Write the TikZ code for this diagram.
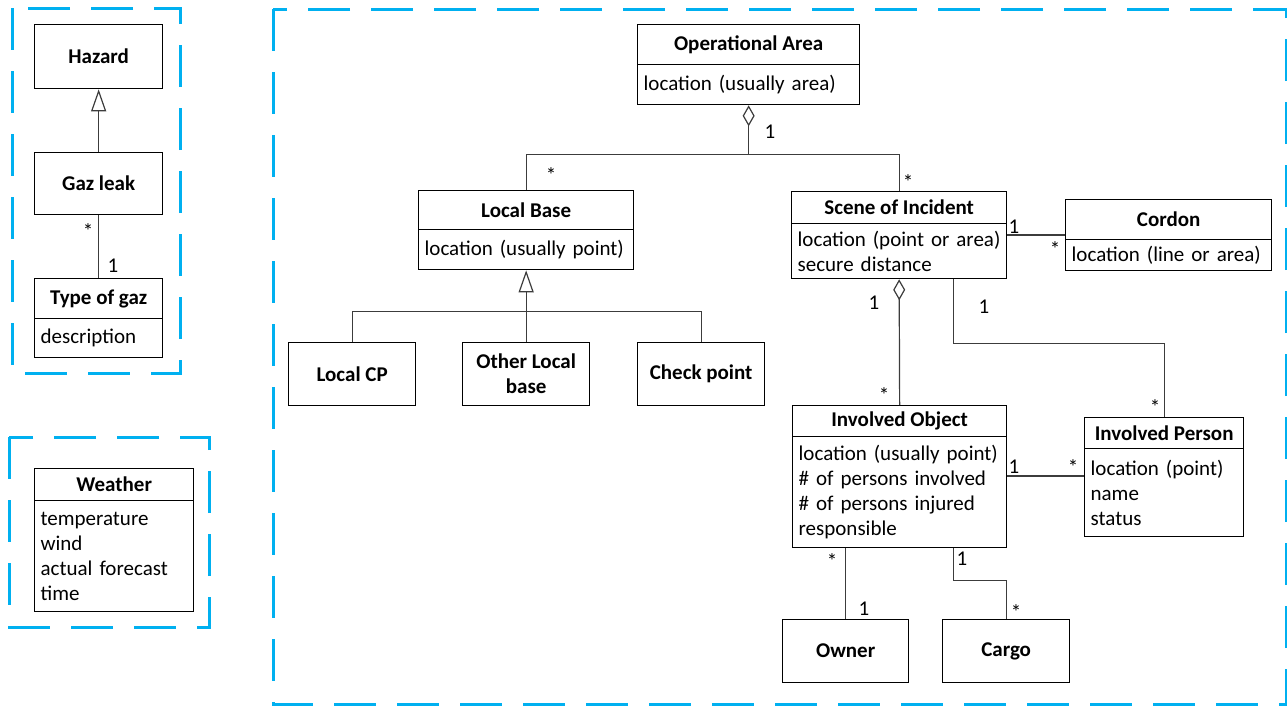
\documentclass[tikz,border=0pt]{standalone}
\usepackage{fontspec}
\setmainfont{Carlito}
\usetikzlibrary{arrows.meta,calc}
\definecolor{groupblue}{RGB}{0,176,240}
\definecolor{linkgray}{RGB}{60,60,60}
\begin{document}
\begin{tikzpicture}[x=1pt,y=-1pt,
  font=\fontsize{21}{25}\selectfont,
  title/.style={draw, line width=1.3pt, anchor=north west, align=center, inner sep=0pt,
    font=\fontsize{21}{25}\selectfont\bfseries},
  attrs/.style={draw, line width=1.3pt, anchor=north west, align=left, inner xsep=6pt, inner ysep=0pt},
  link/.style={draw=linkgray, line width=1.2pt},
  gen/.style={link, -{Triangle[open, length=22pt, width=15pt]}},
  agg/.style={link, {Diamond[open, length=21pt, width=12pt]}-},
  mult/.style={anchor=base, inner sep=0pt},
  group/.style={draw=groupblue, line width=3pt, dash pattern=on 42pt off 21pt}
]
\useasboundingbox (0,0) rectangle (1287,705);

% grouping frames
\draw[group] (12,8) rectangle (180,373);
\draw[group] (9,437) rectangle (209,627);
\draw[group] (273,9) rectangle (1286,704);

% hazard package
\node[title, minimum width=128pt, minimum height=64pt] (haz) at (34,24) {Hazard};
\node[title, minimum width=128pt, minimum height=62pt] (gaz) at (34,152) {Gaz leak};
\node[title, minimum width=128pt, minimum height=40pt] (togT) at (34,278) {Type of gaz};
\node[attrs, minimum width=128pt, minimum height=39pt, text width=116pt] (togA) at (34,318) {description};

% weather
\node[title, minimum width=159pt, minimum height=32pt] (wT) at (34,468) {Weather};
\node[attrs, minimum width=159pt, minimum height=111pt, text width=147pt] (wA) at (34,500)
  {temperature\\wind\\actual forecast\\time};

% operational classes
\node[title, minimum width=222pt, minimum height=40pt] (opT) at (637,24) {Operational Area};
\node[attrs, minimum width=222pt, minimum height=40pt, text width=210pt] (opA) at (637,64) {location (usually area)};

\node[title, minimum width=215pt, minimum height=39pt] (lbT) at (418,190) {Local Base};
\node[attrs, minimum width=215pt, minimum height=40pt, text width=203pt] (lbA) at (418,229) {location (usually point)};

\node[title, minimum width=215pt, minimum height=32pt] (scT) at (791,191) {Scene of Incident};
\node[attrs, minimum width=215pt, minimum height=55pt, text width=203pt] (scA) at (791,223)
  {\mbox{location (point or area)}\\secure distance};

\node[title, minimum width=206pt, minimum height=40pt] (cdT) at (1065,199) {Cordon};
\node[attrs, minimum width=206pt, minimum height=31pt, text width=194pt] (cdA) at (1065,239) {location (line or area)};

\node[title, minimum width=127pt, minimum height=63pt] (lcp) at (288,342) {Local CP};
\node[title, minimum width=127pt, minimum height=63pt] (olb) at (462,342) {Other Local\\base};
\node[title, minimum width=127pt, minimum height=63pt] (chk) at (637,342) {Check point};

\node[title, minimum width=214pt, minimum height=31pt] (ioT) at (792,405) {Involved Object};
\node[attrs, minimum width=214pt, minimum height=111pt, text width=202pt] (ioA) at (792,436)
  {\mbox{location (usually point)}\\\# of persons involved\\\# of persons injured\\responsible};

\node[title, minimum width=159pt, minimum height=31pt] (ipT) at (1084,417) {Involved Person};
\node[attrs, minimum width=159pt, minimum height=88pt, text width=147pt] (ipA) at (1084,448)
  {location (point)\\name\\status};

\node[title, minimum width=126pt, minimum height=63pt] (own) at (782,619) {Owner};
\node[title, minimum width=127pt, minimum height=63pt] (cg) at (942,619) {Cargo};

% connectors
\draw[gen] (gaz.north) -- (haz.south);
\draw[link] (gaz.south) -- (togT.north);

\coordinate (opJ) at ($(opA.south)+(0,49)$);
\draw[agg] (opA.south) -- (opJ);
\draw[link] (lbT.north) |- (opJ) -| (scT.north);

\coordinate (lbJ) at ($(lbA.south)+(0,41)$);
\draw[gen] (lbJ) -- (lbA.south);
\draw[link] (lcp.north) |- (lbJ) -| (chk.north);
\draw[link] (olb.north) -- (lbJ);

\draw[link] ([yshift=-12pt]scA.north east) -- ([yshift=-12pt]scA.north east -| cdT.west);
\draw[agg] (scA.south) -- (ioT.north);
\draw[link] ([xshift=-54pt]scA.south east) -- ++(0,64) -| (ipT.north);
\draw[link] ([yshift=-40pt]ioA.north east) -- ([yshift=-40pt]ioA.north east -| ipA.west);
\draw[link] (own.north) -- (own.north |- ioA.south);
\draw[link] ([xshift=-54pt]ioA.south east) -- ++(0,32) -| (cg.north);

% multiplicities
\node[mult] (m1) at (88,238) {*};
\node[mult] (m2) at (113,272) {1};
\node[mult] (m3) at (770,138) {1};
\node[mult] (m4) at (551,182) {*};
\node[mult] (m5) at (908,189) {*};
\node[mult] (m6) at (1014,233) {1};
\node[mult] (m7) at (1055,256) {*};
\node[mult] (m8) at (874,309) {1};
\node[mult] (m9) at (884,402) {*};
\node[mult] (m10) at (984,313) {1};
\node[mult] (m11) at (1155,414) {*};
\node[mult] (m12) at (1014,473) {1};
\node[mult] (m13) at (1073,474) {*};
\node[mult] (m14) at (832,568) {*};
\node[mult] (m15) at (864,615) {1};
\node[mult] (m16) at (962,565) {1};
\node[mult] (m17) at (1016,619) {*};
\end{tikzpicture}
\end{document}
